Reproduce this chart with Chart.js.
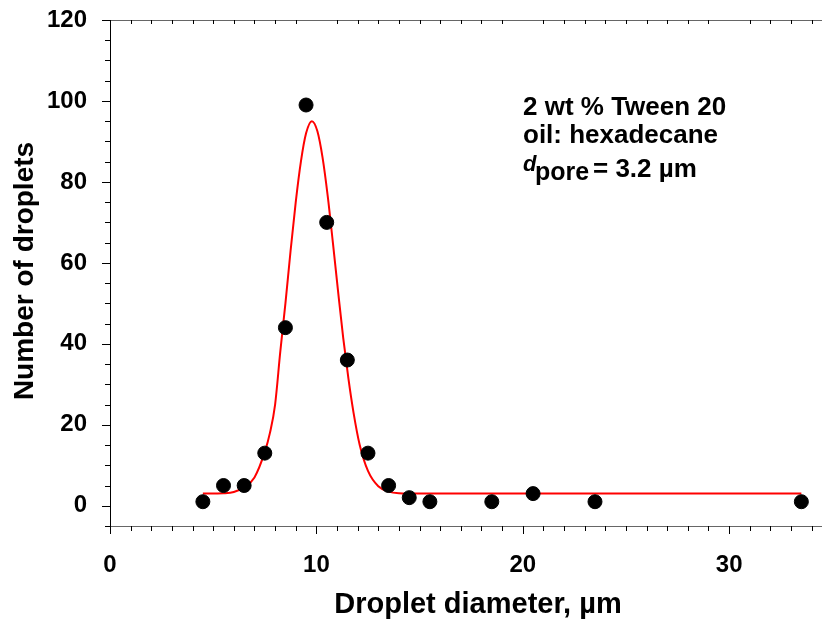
<!DOCTYPE html>
<html>
<head>
<meta charset="utf-8">
<script src="https://cdn.jsdelivr.net/npm/chart.js@4.4.1/dist/chart.umd.min.js"></script>
<style>
  html, body { margin: 0; padding: 0; background: #fff; }
  #wrap { width: 822px; height: 620px; }
</style>
</head>
<body>
<div id="wrap"><canvas id="sizeChart" width="822" height="620"></canvas></div>
<script>
// measured droplet counts
const diameters = [4.5, 5.5, 6.5, 7.5, 8.5, 9.5, 10.5, 11.5, 12.5, 13.5, 14.5, 15.5, 18.5, 20.5, 23.5, 33.5];
const counts = [1, 5, 5, 13, 44, 99, 70, 36, 13, 5, 2, 1, 1, 3, 1, 1];

// fitted curve
const fitX = [4.5, 5.5, 6, 6.5, 7, 7.5, 7.75, 8, 8.25, 8.5, 8.75, 9, 9.25, 9.5, 9.78, 10.05, 10.3, 10.55, 10.8, 11.05, 11.3, 11.55, 11.8, 12.1, 12.5, 13, 13.5, 14, 15, 20, 33.5];
const fitY = [3, 3.1, 3.4, 4.6, 7, 13.3, 18, 25, 38, 50, 63, 75, 85, 92, 95, 92.5, 86, 76.5, 65, 53, 41.5, 31.5, 23, 15, 8.6, 4.8, 3.5, 3.1, 3, 3, 3];

const xTicks = [0, 10, 20, 30];
const yTicks = [0, 20, 40, 60, 80, 100, 120];

const infoLines = ["2 wt % Tween 20", "oil: hexadecane"];

const FONT = "'Liberation Sans', Arial, sans-serif";

// axis lines, tick marks, axis titles and the text box
const framePlugin = {
  id: "frame",
  afterDraw(chart) {
    const ctx = chart.ctx;
    const xs = chart.scales.x;
    const ys = chart.scales.y;
    const area = chart.chartArea;
    ctx.save();
    ctx.lineWidth = 1;

    // top and bottom lines
    ctx.strokeStyle = "#666";
    ctx.beginPath();
    ctx.moveTo(area.left - 8, area.top + 0.5);
    ctx.lineTo(area.right, area.top + 0.5);
    ctx.moveTo(area.left - 5, area.bottom + 0.5);
    ctx.lineTo(area.right, area.bottom + 0.5);
    ctx.stroke();

    // left line
    ctx.strokeStyle = "#000";
    ctx.beginPath();
    ctx.moveTo(area.left + 0.5, area.top);
    ctx.lineTo(area.left + 0.5, area.bottom + 8);
    ctx.stroke();

    // y ticks
    ctx.beginPath();
    for (let v = -5; v <= 120; v += 5) {
      const py = Math.round(ys.getPixelForValue(v)) + 0.5;
      const len = v % 20 === 0 ? 8 : 5;
      ctx.moveTo(area.left - len, py);
      ctx.lineTo(area.left, py);
    }
    // x ticks, bottom outside and top inside
    for (let v = 1; v <= 34; v++) {
      const px = Math.round(xs.getPixelForValue(v)) + 0.5;
      const major = v % 10 === 0;
      ctx.moveTo(px, area.bottom);
      ctx.lineTo(px, area.bottom + (major ? 8 : 5));
      if (!major) {
        ctx.moveTo(px, area.top);
        ctx.lineTo(px, area.top + 4);
      }
    }
    ctx.stroke();

    // axis titles
    ctx.fillStyle = "#000";
    ctx.font = "bold 29px " + FONT;
    ctx.textAlign = "center";
    ctx.textBaseline = "alphabetic";
    ctx.fillText("Droplet diameter, \u00b5m", 478, 613);

    ctx.save();
    ctx.translate(33, 271);
    ctx.rotate(-Math.PI / 2);
    ctx.font = "bold 28px " + FONT;
    ctx.fillText("Number of droplets", 0, 0);
    ctx.restore();

    // info text
    ctx.textAlign = "left";
    ctx.font = "bold 26px " + FONT;
    ctx.fillText(infoLines[0], 523, 114.5);
    ctx.fillText(infoLines[1], 523, 143);
    ctx.font = "italic bold 22px " + FONT;
    ctx.fillText("d", 523, 171);
    ctx.font = "bold 25px " + FONT;
    ctx.fillText("pore", 535, 180);
    ctx.font = "bold 26px " + FONT;
    ctx.fillText("= 3.2 \u00b5m", 593, 176.5);

    ctx.restore();
  },
};

const ctx = document.getElementById("sizeChart").getContext("2d");
const sizeChart = new Chart(ctx, {
  type: "scatter",
  data: {
    datasets: [
      {
        label: "fit",
        type: "line",
        data: fitX.map((x, i) => ({ x: x, y: fitY[i] })),
        borderColor: "#ff0000",
        borderWidth: 2,
        pointRadius: 0,
        cubicInterpolationMode: "monotone",
        fill: false,
        order: 2,
      },
      {
        label: "droplets",
        data: diameters.map((x, i) => ({ x: x, y: counts[i] })),
        backgroundColor: "#000",
        borderColor: "#000",
        pointRadius: 7,
        pointHoverRadius: 7,
        clip: false,
        order: 1,
      },
    ],
  },
  options: {
    responsive: false,
    animation: false,
    events: [],
    layout: { autoPadding: false, padding: { top: 20, right: 0, left: 0, bottom: 0 } },
    plugins: {
      legend: { display: false },
      tooltip: { enabled: false },
    },
    scales: {
      x: {
        type: "linear",
        min: 0,
        max: 34.5,
        afterBuildTicks: (scale) => {
          scale.ticks = xTicks.map((v) => ({ value: v }));
        },
        afterFit: (scale) => {
          scale.height = 94;
          scale.paddingLeft = 0;
          scale.paddingRight = 0;
        },
        grid: { display: false, drawTicks: false },
        border: { display: false },
        ticks: {
          color: "#000",
          padding: 25,
          maxRotation: 0,
          autoSkip: false,
          font: { family: FONT, size: 24, weight: "bold" },
        },
      },
      y: {
        type: "linear",
        min: -5,
        max: 120,
        afterBuildTicks: (scale) => {
          scale.ticks = yTicks.map((v) => ({ value: v }));
        },
        afterFit: (scale) => {
          scale.width = 110;
          scale.paddingTop = 0;
          scale.paddingBottom = 0;
        },
        grid: { display: false, drawTicks: false },
        border: { display: false },
        ticks: {
          color: "#000",
          padding: 23,
          font: { family: FONT, size: 24, weight: "bold" },
        },
      },
    },
  },
  plugins: [framePlugin],
});
</script>
</body>
</html>
